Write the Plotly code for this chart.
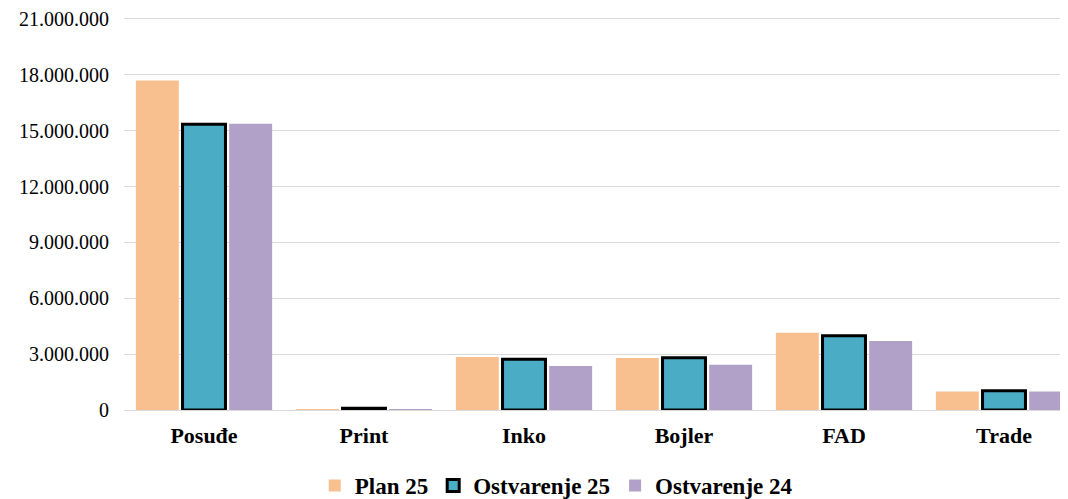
import plotly.graph_objects as go

categories = ["Posuđe", "Print", "Inko", "Bojler", "FAD", "Trade"]
plan_25 = [17700000, 30000, 2840000, 2790000, 4150000, 1000000]
ostvarenje_25 = [15350000, 100000, 2730000, 2810000, 3990000, 1040000]
ostvarenje_24 = [15370000, 40000, 2360000, 2430000, 3700000, 1000000]
y_ticks = [0, 3000000, 6000000, 9000000, 12000000, 15000000, 18000000, 21000000]
y_tick_labels = ["0", "3.000.000", "6.000.000", "9.000.000", "12.000.000",
                 "15.000.000", "18.000.000", "21.000.000"]

SERIF = "Liberation Serif"

fig = go.Figure()
fig.add_trace(go.Bar(name="Plan 25", x=categories, y=plan_25,
                     marker=dict(color="#F9C08F", line=dict(width=0))))
fig.add_trace(go.Bar(name="Ostvarenje 25", x=categories, y=ostvarenje_25,
                     marker=dict(color="#4BACC6", line=dict(color="#000000", width=3))))
fig.add_trace(go.Bar(name="Ostvarenje 24", x=categories, y=ostvarenje_24,
                     marker=dict(color="#B1A0C7", line=dict(width=0))))

fig.update_layout(
    width=1068, height=499,
    margin=dict(l=116, r=0, t=9, b=96),
    paper_bgcolor="white", plot_bgcolor="white",
    barmode="group", bargap=0.125, bargroupgap=0.08,
    font=dict(family=SERIF, color="#000000"),
    legend=dict(orientation="h", x=0.454, xanchor="center", y=-0.193, yanchor="middle",
                font=dict(size=23, family=SERIF, weight="bold"),
                itemwidth=30, traceorder="normal"),
    xaxis=dict(range=[-0.5, 5.45], showgrid=False, showline=False, ticks="",
               tickfont=dict(size=22, family=SERIF, weight="bold"), ticklabelstandoff=10),
    yaxis=dict(range=[0, 21107000], tickvals=y_ticks, ticktext=y_tick_labels,
               showgrid=True, gridcolor="#D9D9D9", gridwidth=1, zeroline=True,
               zerolinecolor="#D9D9D9", zerolinewidth=1, showline=False,
               tickfont=dict(size=20, family=SERIF), ticklabelstandoff=14,
               ticklabeloverflow="allow"),
)

fig.write_html("out.html")
